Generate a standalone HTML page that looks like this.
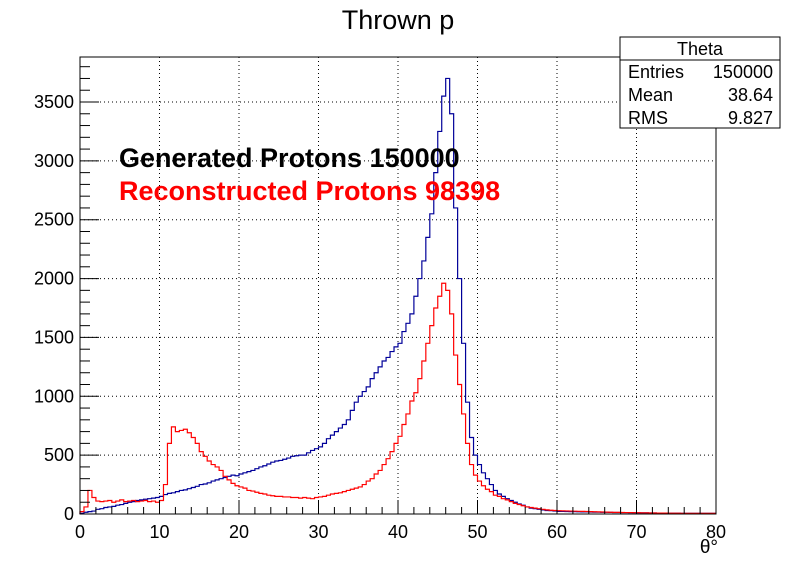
<!DOCTYPE html>
<html><head><meta charset="utf-8"><style>
html,body{margin:0;padding:0;background:#fff}
svg{display:block;font-family:"Liberation Sans",sans-serif}
</style></head><body>
<svg id="c" width="796" height="572" viewBox="0 0 796 572" xmlns="http://www.w3.org/2000/svg">
<rect width="796" height="572" fill="#fff"/>
<text x="398" y="29" font-size="27" text-anchor="middle">Thrown p</text>
<g id="grid"></g>
<g id="hists"></g>
<rect x="80" y="57" width="636" height="457" fill="none" stroke="#000" stroke-width="1"/>
<g id="axes"></g>
<text x="119" y="167" font-size="27" font-weight="bold" fill="#000">Generated Protons 150000</text>
<text x="119" y="200" font-size="27" font-weight="bold" fill="#ff0000">Reconstructed Protons 98398</text>
<text x="718" y="553" font-size="19" text-anchor="end">θ°</text>
<g>
<rect x="620" y="37" width="160" height="91" fill="#fff" stroke="#000"/>
<line x1="620" y1="60" x2="780" y2="60" stroke="#000"/>
<text x="700" y="55" font-size="18" text-anchor="middle">Theta</text>
<text x="628" y="78" font-size="18">Entries</text><text x="773" y="78" font-size="18" text-anchor="end">150000</text>
<text x="628" y="101" font-size="18">Mean</text><text x="773" y="101" font-size="18" text-anchor="end">38.64</text>
<text x="628" y="124" font-size="18">RMS</text><text x="773" y="124" font-size="18" text-anchor="end">9.827</text>
</g>
</svg>
<script>
const binWidth = 0.5;
const xTickLabels = [0,10,20,30,40,50,60,70,80];
const yTickLabels = [0,500,1000,1500,2000,2500,3000,3500];
const generated = [5,15,20,25,40,45,55,60,65,75,80,90,100,105,115,120,125,130,135,140,
150,165,175,180,190,200,205,215,225,235,250,255,265,280,290,300,310,320,330,325,
340,350,360,370,385,400,410,425,440,450,455,465,475,490,495,500,500,520,540,555,
570,600,640,670,700,730,760,800,880,950,1000,1040,1080,1150,1200,1250,1300,1330,1380,1420,
1450,1550,1620,1700,1850,2000,2150,2350,2550,2900,3250,3550,3700,3400,2600,2000,1450,950,650,500,
420,350,300,250,200,170,150,130,115,100,85,75,60,50,45,40,35,30,28,25,
22,22,21,20,20,19,18,18,17,16,16,15,15,14,13,13,12,12,11,11,
10,10,10,9,9,8,8,8,7,7,7,6,6,6,6,5,5,5,5,5];
const reconstructed = [20,60,200,140,110,105,110,115,100,110,120,105,110,115,105,110,115,105,110,100,
115,250,600,740,700,710,720,690,650,600,530,490,450,420,400,370,320,290,260,240,
230,220,200,195,185,175,170,160,155,150,150,145,145,140,140,135,140,135,130,140,
145,150,160,170,175,180,190,200,210,220,230,250,280,300,340,370,420,470,530,600,
660,760,850,960,1030,1150,1300,1450,1600,1750,1850,1960,1900,1700,1350,1100,850,600,420,330,
280,240,210,190,160,150,130,120,105,90,80,70,60,55,50,45,40,35,32,30,
28,27,26,25,24,23,22,21,20,19,18,17,16,15,14,14,13,12,12,11,
11,10,10,9,9,8,8,8,7,7,7,6,6,6,6,5,5,5,5,5];

const NS="http://www.w3.org/2000/svg";
const X0=80,X1=716,Y0=514,Y1=57,XMAX=80,YPX=(514-102)/3500;
const xs=v=>X0+(X1-X0)*v/XMAX;
const ys=v=>Y0-v*YPX;
function mk(tag,attrs,parent){const e=document.createElementNS(NS,tag);for(const k in attrs)e.setAttribute(k,attrs[k]);parent.appendChild(e);return e;}
const grid=document.getElementById('grid'),axes=document.getElementById('axes'),hists=document.getElementById('hists');
xTickLabels.forEach(v=>{
  if(v>0&&v<XMAX){const g=mk('line',{x1:xs(v),x2:xs(v),y1:Y1,y2:Y0,stroke:'#000','stroke-dasharray':'1,3'},grid);
  
  }
  const t=mk('text',{x:xs(v),y:Y0+24,'font-size':18,'text-anchor':'middle'},axes);t.textContent=v;
  
  
});
for(let v=0;v<=XMAX;v+=2){const major=v%10===0;mk('line',{x1:xs(v),x2:xs(v),y1:Y0,y2:Y0-(major?14:7),stroke:'#000'},axes);}
yTickLabels.forEach(v=>{
  if(v>0){const g=mk('line',{x1:X0,x2:X1,y1:ys(v),y2:ys(v),stroke:'#000','stroke-dasharray':'1,3'},grid);
  
  }
  const t=mk('text',{x:X0-6,y:ys(v)+6,'font-size':18,'text-anchor':'end'},axes);t.textContent=v;
  
  
});
for(let v=0;ys(v)>=Y1;v+=100){const major=v%500===0;mk('line',{x1:X0,x2:X0+(major?19:10),y1:ys(v),y2:ys(v),stroke:'#000'},axes);}
function stepPath(arr,color,name){
  let d='M'+xs(0)+','+ys(0);
  arr.forEach((v,i)=>{d+=' L'+xs(i*binWidth)+','+ys(v)+' L'+xs((i+1)*binWidth)+','+ys(v);});
  const p=mk('path',{d:d,fill:'none',stroke:color,'stroke-width':1.2},hists);
  
  
}
stepPath(generated,'#000099','generated-histogram');
stepPath(reconstructed,'#ff0000','reconstructed-histogram');
</script>
</body></html>
